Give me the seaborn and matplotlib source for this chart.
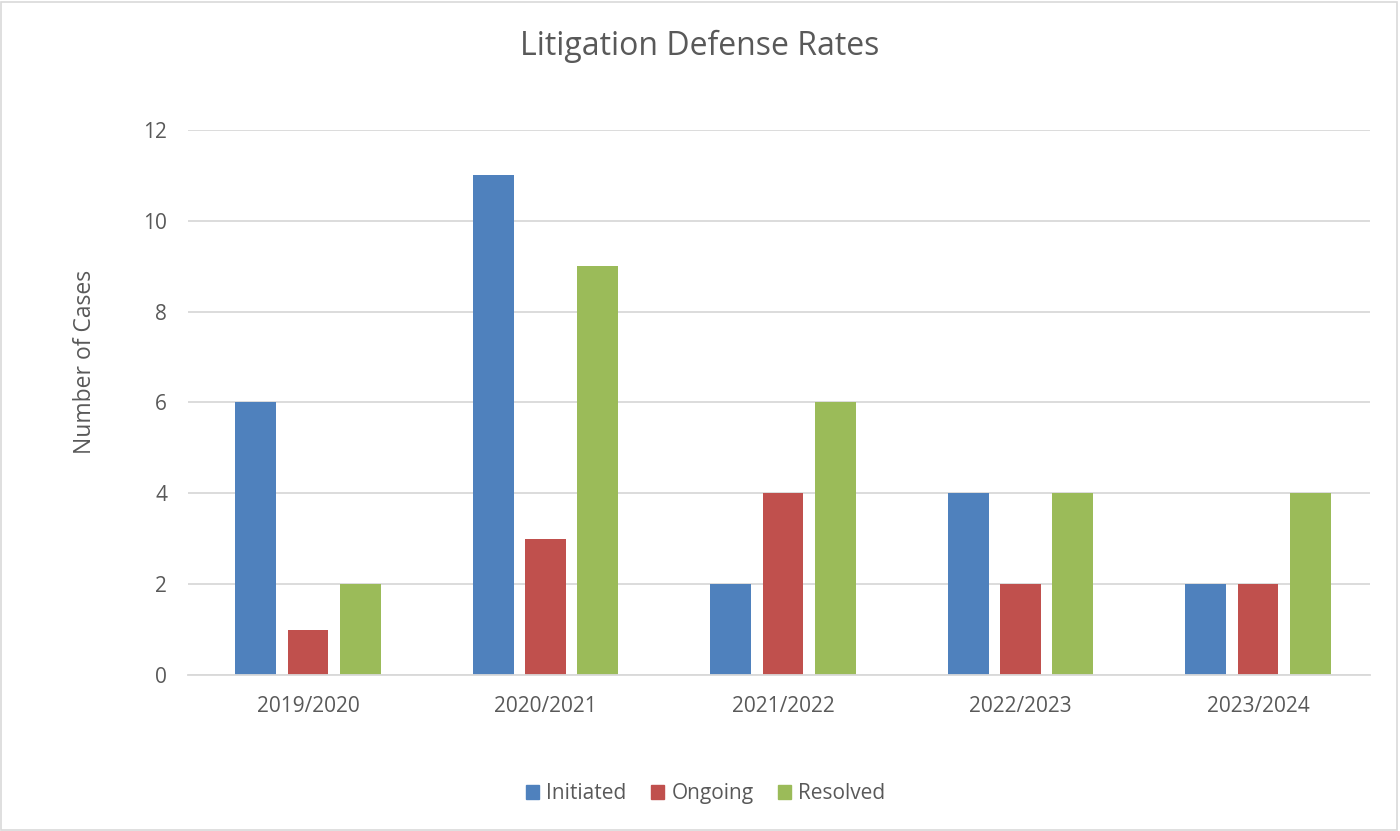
import matplotlib
matplotlib.use("Agg")
import matplotlib.pyplot as plt
import seaborn as sns
import pandas as pd
from matplotlib.patches import Rectangle

years = ["2019/2020", "2020/2021", "2021/2022", "2022/2023", "2023/2024"]
initiated = [6, 11, 2, 4, 2]
ongoing = [1, 3, 4, 2, 2]
resolved = [2, 9, 6, 4, 4]
series = ["Initiated", "Ongoing", "Resolved"]
colors = ["#4F81BD", "#C0504D", "#9BBB59"]

rows = []
for name, vals in zip(series, [initiated, ongoing, resolved]):
    for y, v in zip(years, vals):
        rows.append({"Year": y, "Series": name, "Cases": v})
df = pd.DataFrame(rows)

sns.set_theme(style="white")
plt.rcParams["font.family"] = ["Open Sans", "DejaVu Sans"]
text_color = "#595959"

fig = plt.figure(figsize=(14, 8.31), dpi=100)
ax = fig.add_axes([0.1343, 0.1877, 0.8443, 0.6559])

sns.barplot(data=df, x="Year", y="Cases", hue="Series", order=years,
            hue_order=series, palette=colors, width=0.66, gap=0.22,
            ax=ax, legend=False, saturation=1, edgecolor="none")

ax.set_ylim(0, 12)
ax.set_xlim(-0.505, 4.472)
ax.set_yticks(range(0, 13, 2))
ax.yaxis.grid(True, color="#D9D9D9", linewidth=1.3)
ax.set_axisbelow(True)
for s in ["top", "right", "left"]:
    ax.spines[s].set_visible(False)
ax.spines["bottom"].set_color("#D9D9D9")
ax.spines["bottom"].set_linewidth(1.3)
ax.tick_params(axis="both", length=0, labelsize=15, colors=text_color)
ax.tick_params(axis="x", pad=15)
ax.tick_params(axis="y", pad=15)
ax.set_xlabel("")
ax.set_ylabel("Number of Cases", fontsize=16.5, color=text_color)
ax.yaxis.set_label_coords(-0.077, 0.574)
fig.text(0.5, 0.944, "Litigation Defense Rates", ha="center", va="center",
         fontsize=23, color=text_color)

handles = [Rectangle((0, 0), 1, 1, color=c) for c in colors]
fig.legend(handles, series, loc="center", bbox_to_anchor=(0.504, 0.045), ncol=3,
           frameon=False, fontsize=15, handlelength=0.65, handleheight=0.65,
           handletextpad=0.35, columnspacing=1.15, labelcolor=text_color)

fig.add_artist(Rectangle((0.001, 0.001), 0.997, 0.997, transform=fig.transFigure,
                         fill=False, edgecolor="#D9D9D9", linewidth=1.2))

fig.savefig("out.png", dpi=100, facecolor="white")
